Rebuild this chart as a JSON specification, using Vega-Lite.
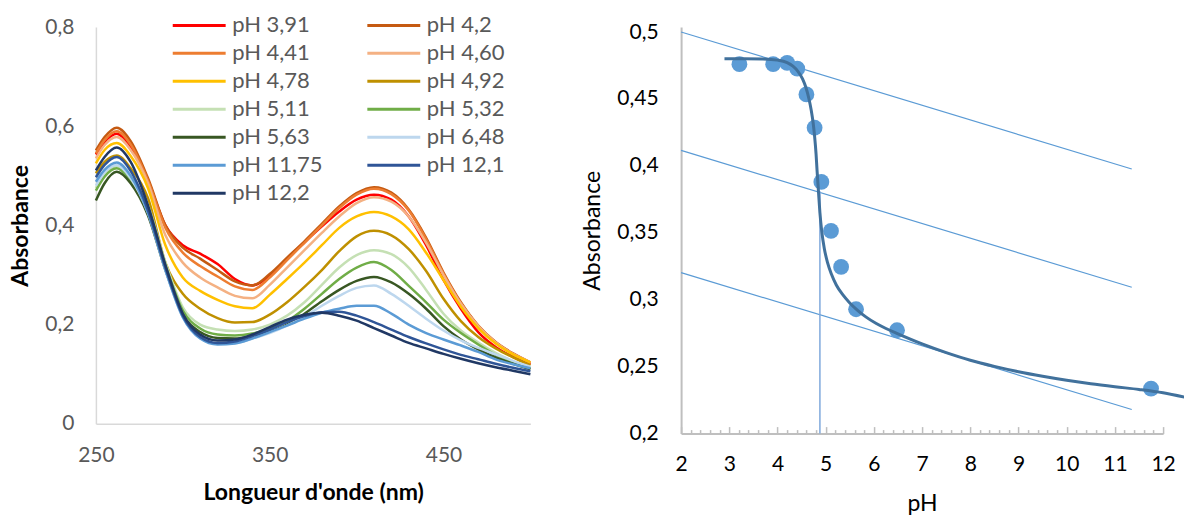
{
  "$schema": "https://vega.github.io/schema/vega-lite/v6.json",
  "background": "white",
  "padding": {"left": 8.9, "top": 11, "right": 0, "bottom": 0},
  "config": {"view": {"stroke": null}, "font": "Lato", "axis": {"grid": false}},
  "spacing": 45.2,
  "datasets": {
    "spectra": [
      {"s":"pH 3,91","nm":250,"A":0.543},{"s":"pH 3,91","nm":255,"A":0.568},{"s":"pH 3,91","nm":262,"A":0.585},{"s":"pH 3,91","nm":270,"A":0.557},{"s":"pH 3,91","nm":280,"A":0.49},{"s":"pH 3,91","nm":290,"A":0.40},{"s":"pH 3,91","nm":300,"A":0.36},{"s":"pH 3,91","nm":310,"A":0.343},{"s":"pH 3,91","nm":320,"A":0.322},{"s":"pH 3,91","nm":330,"A":0.292},{"s":"pH 3,91","nm":340,"A":0.279},{"s":"pH 3,91","nm":350,"A":0.298},{"s":"pH 3,91","nm":360,"A":0.333},{"s":"pH 3,91","nm":370,"A":0.366},{"s":"pH 3,91","nm":380,"A":0.398},{"s":"pH 3,91","nm":390,"A":0.428},{"s":"pH 3,91","nm":400,"A":0.452},{"s":"pH 3,91","nm":410,"A":0.462},{"s":"pH 3,91","nm":420,"A":0.452},{"s":"pH 3,91","nm":430,"A":0.418},{"s":"pH 3,91","nm":440,"A":0.36},{"s":"pH 3,91","nm":450,"A":0.29},{"s":"pH 3,91","nm":460,"A":0.232},{"s":"pH 3,91","nm":470,"A":0.185},{"s":"pH 3,91","nm":480,"A":0.155},{"s":"pH 3,91","nm":490,"A":0.135},{"s":"pH 3,91","nm":500,"A":0.12},
      {"s":"pH 4,2","nm":250,"A":0.551},{"s":"pH 4,2","nm":255,"A":0.578},{"s":"pH 4,2","nm":262,"A":0.597},{"s":"pH 4,2","nm":270,"A":0.57},{"s":"pH 4,2","nm":280,"A":0.495},{"s":"pH 4,2","nm":290,"A":0.40},{"s":"pH 4,2","nm":300,"A":0.355},{"s":"pH 4,2","nm":310,"A":0.333},{"s":"pH 4,2","nm":320,"A":0.31},{"s":"pH 4,2","nm":330,"A":0.287},{"s":"pH 4,2","nm":340,"A":0.279},{"s":"pH 4,2","nm":350,"A":0.302},{"s":"pH 4,2","nm":360,"A":0.335},{"s":"pH 4,2","nm":370,"A":0.368},{"s":"pH 4,2","nm":380,"A":0.403},{"s":"pH 4,2","nm":390,"A":0.438},{"s":"pH 4,2","nm":400,"A":0.465},{"s":"pH 4,2","nm":410,"A":0.477},{"s":"pH 4,2","nm":420,"A":0.466},{"s":"pH 4,2","nm":430,"A":0.432},{"s":"pH 4,2","nm":440,"A":0.375},{"s":"pH 4,2","nm":450,"A":0.305},{"s":"pH 4,2","nm":460,"A":0.245},{"s":"pH 4,2","nm":470,"A":0.198},{"s":"pH 4,2","nm":480,"A":0.165},{"s":"pH 4,2","nm":490,"A":0.142},{"s":"pH 4,2","nm":500,"A":0.124},
      {"s":"pH 4,41","nm":250,"A":0.545},{"s":"pH 4,41","nm":255,"A":0.572},{"s":"pH 4,41","nm":262,"A":0.59},{"s":"pH 4,41","nm":270,"A":0.563},{"s":"pH 4,41","nm":280,"A":0.49},{"s":"pH 4,41","nm":290,"A":0.395},{"s":"pH 4,41","nm":300,"A":0.345},{"s":"pH 4,41","nm":310,"A":0.318},{"s":"pH 4,41","nm":320,"A":0.297},{"s":"pH 4,41","nm":330,"A":0.277},{"s":"pH 4,41","nm":340,"A":0.27},{"s":"pH 4,41","nm":350,"A":0.295},{"s":"pH 4,41","nm":360,"A":0.33},{"s":"pH 4,41","nm":370,"A":0.365},{"s":"pH 4,41","nm":380,"A":0.4},{"s":"pH 4,41","nm":390,"A":0.435},{"s":"pH 4,41","nm":400,"A":0.462},{"s":"pH 4,41","nm":410,"A":0.474},{"s":"pH 4,41","nm":420,"A":0.463},{"s":"pH 4,41","nm":430,"A":0.43},{"s":"pH 4,41","nm":440,"A":0.372},{"s":"pH 4,41","nm":450,"A":0.303},{"s":"pH 4,41","nm":460,"A":0.243},{"s":"pH 4,41","nm":470,"A":0.197},{"s":"pH 4,41","nm":480,"A":0.164},{"s":"pH 4,41","nm":490,"A":0.141},{"s":"pH 4,41","nm":500,"A":0.123},
      {"s":"pH 4,60","nm":250,"A":0.535},{"s":"pH 4,60","nm":255,"A":0.562},{"s":"pH 4,60","nm":262,"A":0.578},{"s":"pH 4,60","nm":270,"A":0.552},{"s":"pH 4,60","nm":280,"A":0.485},{"s":"pH 4,60","nm":290,"A":0.38},{"s":"pH 4,60","nm":300,"A":0.325},{"s":"pH 4,60","nm":310,"A":0.295},{"s":"pH 4,60","nm":320,"A":0.275},{"s":"pH 4,60","nm":330,"A":0.258},{"s":"pH 4,60","nm":340,"A":0.253},{"s":"pH 4,60","nm":350,"A":0.28},{"s":"pH 4,60","nm":360,"A":0.315},{"s":"pH 4,60","nm":370,"A":0.35},{"s":"pH 4,60","nm":380,"A":0.385},{"s":"pH 4,60","nm":390,"A":0.418},{"s":"pH 4,60","nm":400,"A":0.445},{"s":"pH 4,60","nm":410,"A":0.457},{"s":"pH 4,60","nm":420,"A":0.448},{"s":"pH 4,60","nm":430,"A":0.418},{"s":"pH 4,60","nm":440,"A":0.365},{"s":"pH 4,60","nm":450,"A":0.30},{"s":"pH 4,60","nm":460,"A":0.242},{"s":"pH 4,60","nm":470,"A":0.197},{"s":"pH 4,60","nm":480,"A":0.164},{"s":"pH 4,60","nm":490,"A":0.141},{"s":"pH 4,60","nm":500,"A":0.124},
      {"s":"pH 4,78","nm":250,"A":0.525},{"s":"pH 4,78","nm":255,"A":0.552},{"s":"pH 4,78","nm":262,"A":0.566},{"s":"pH 4,78","nm":270,"A":0.54},{"s":"pH 4,78","nm":280,"A":0.475},{"s":"pH 4,78","nm":290,"A":0.36},{"s":"pH 4,78","nm":300,"A":0.295},{"s":"pH 4,78","nm":310,"A":0.268},{"s":"pH 4,78","nm":320,"A":0.25},{"s":"pH 4,78","nm":330,"A":0.237},{"s":"pH 4,78","nm":340,"A":0.233},{"s":"pH 4,78","nm":350,"A":0.26},{"s":"pH 4,78","nm":360,"A":0.292},{"s":"pH 4,78","nm":370,"A":0.325},{"s":"pH 4,78","nm":380,"A":0.36},{"s":"pH 4,78","nm":390,"A":0.395},{"s":"pH 4,78","nm":400,"A":0.418},{"s":"pH 4,78","nm":410,"A":0.427},{"s":"pH 4,78","nm":420,"A":0.418},{"s":"pH 4,78","nm":430,"A":0.392},{"s":"pH 4,78","nm":440,"A":0.345},{"s":"pH 4,78","nm":450,"A":0.29},{"s":"pH 4,78","nm":460,"A":0.236},{"s":"pH 4,78","nm":470,"A":0.193},{"s":"pH 4,78","nm":480,"A":0.162},{"s":"pH 4,78","nm":490,"A":0.14},{"s":"pH 4,78","nm":500,"A":0.124},
      {"s":"pH 4,92","nm":250,"A":0.505},{"s":"pH 4,92","nm":255,"A":0.528},{"s":"pH 4,92","nm":262,"A":0.541},{"s":"pH 4,92","nm":270,"A":0.515},{"s":"pH 4,92","nm":280,"A":0.455},{"s":"pH 4,92","nm":290,"A":0.325},{"s":"pH 4,92","nm":300,"A":0.262},{"s":"pH 4,92","nm":310,"A":0.232},{"s":"pH 4,92","nm":320,"A":0.213},{"s":"pH 4,92","nm":330,"A":0.204},{"s":"pH 4,92","nm":340,"A":0.205},{"s":"pH 4,92","nm":350,"A":0.22},{"s":"pH 4,92","nm":360,"A":0.245},{"s":"pH 4,92","nm":370,"A":0.276},{"s":"pH 4,92","nm":380,"A":0.31},{"s":"pH 4,92","nm":390,"A":0.348},{"s":"pH 4,92","nm":400,"A":0.378},{"s":"pH 4,92","nm":410,"A":0.389},{"s":"pH 4,92","nm":420,"A":0.38},{"s":"pH 4,92","nm":430,"A":0.352},{"s":"pH 4,92","nm":440,"A":0.308},{"s":"pH 4,92","nm":450,"A":0.252},{"s":"pH 4,92","nm":460,"A":0.207},{"s":"pH 4,92","nm":470,"A":0.175},{"s":"pH 4,92","nm":480,"A":0.152},{"s":"pH 4,92","nm":490,"A":0.134},{"s":"pH 4,92","nm":500,"A":0.118},
      {"s":"pH 5,11","nm":250,"A":0.475},{"s":"pH 5,11","nm":255,"A":0.503},{"s":"pH 5,11","nm":262,"A":0.52},{"s":"pH 5,11","nm":270,"A":0.495},{"s":"pH 5,11","nm":280,"A":0.44},{"s":"pH 5,11","nm":290,"A":0.325},{"s":"pH 5,11","nm":300,"A":0.235},{"s":"pH 5,11","nm":310,"A":0.2},{"s":"pH 5,11","nm":320,"A":0.19},{"s":"pH 5,11","nm":330,"A":0.187},{"s":"pH 5,11","nm":340,"A":0.19},{"s":"pH 5,11","nm":350,"A":0.2},{"s":"pH 5,11","nm":360,"A":0.218},{"s":"pH 5,11","nm":370,"A":0.245},{"s":"pH 5,11","nm":380,"A":0.28},{"s":"pH 5,11","nm":390,"A":0.315},{"s":"pH 5,11","nm":400,"A":0.34},{"s":"pH 5,11","nm":410,"A":0.35},{"s":"pH 5,11","nm":420,"A":0.342},{"s":"pH 5,11","nm":430,"A":0.315},{"s":"pH 5,11","nm":440,"A":0.27},{"s":"pH 5,11","nm":450,"A":0.222},{"s":"pH 5,11","nm":460,"A":0.188},{"s":"pH 5,11","nm":470,"A":0.164},{"s":"pH 5,11","nm":480,"A":0.143},{"s":"pH 5,11","nm":490,"A":0.126},{"s":"pH 5,11","nm":500,"A":0.113},
      {"s":"pH 5,32","nm":250,"A":0.47},{"s":"pH 5,32","nm":255,"A":0.498},{"s":"pH 5,32","nm":262,"A":0.515},{"s":"pH 5,32","nm":270,"A":0.49},{"s":"pH 5,32","nm":280,"A":0.435},{"s":"pH 5,32","nm":290,"A":0.32},{"s":"pH 5,32","nm":300,"A":0.228},{"s":"pH 5,32","nm":310,"A":0.192},{"s":"pH 5,32","nm":320,"A":0.18},{"s":"pH 5,32","nm":330,"A":0.178},{"s":"pH 5,32","nm":340,"A":0.182},{"s":"pH 5,32","nm":350,"A":0.192},{"s":"pH 5,32","nm":360,"A":0.207},{"s":"pH 5,32","nm":370,"A":0.232},{"s":"pH 5,32","nm":380,"A":0.262},{"s":"pH 5,32","nm":390,"A":0.292},{"s":"pH 5,32","nm":400,"A":0.315},{"s":"pH 5,32","nm":410,"A":0.326},{"s":"pH 5,32","nm":420,"A":0.31},{"s":"pH 5,32","nm":430,"A":0.278},{"s":"pH 5,32","nm":440,"A":0.245},{"s":"pH 5,32","nm":450,"A":0.21},{"s":"pH 5,32","nm":460,"A":0.183},{"s":"pH 5,32","nm":470,"A":0.16},{"s":"pH 5,32","nm":480,"A":0.139},{"s":"pH 5,32","nm":490,"A":0.122},{"s":"pH 5,32","nm":500,"A":0.112},
      {"s":"pH 5,63","nm":250,"A":0.45},{"s":"pH 5,63","nm":255,"A":0.485},{"s":"pH 5,63","nm":262,"A":0.508},{"s":"pH 5,63","nm":270,"A":0.485},{"s":"pH 5,63","nm":280,"A":0.42},{"s":"pH 5,63","nm":290,"A":0.31},{"s":"pH 5,63","nm":300,"A":0.22},{"s":"pH 5,63","nm":310,"A":0.185},{"s":"pH 5,63","nm":320,"A":0.173},{"s":"pH 5,63","nm":330,"A":0.172},{"s":"pH 5,63","nm":340,"A":0.177},{"s":"pH 5,63","nm":350,"A":0.186},{"s":"pH 5,63","nm":360,"A":0.2},{"s":"pH 5,63","nm":370,"A":0.222},{"s":"pH 5,63","nm":380,"A":0.247},{"s":"pH 5,63","nm":390,"A":0.27},{"s":"pH 5,63","nm":400,"A":0.288},{"s":"pH 5,63","nm":410,"A":0.296},{"s":"pH 5,63","nm":420,"A":0.285},{"s":"pH 5,63","nm":430,"A":0.262},{"s":"pH 5,63","nm":440,"A":0.232},{"s":"pH 5,63","nm":450,"A":0.197},{"s":"pH 5,63","nm":460,"A":0.17},{"s":"pH 5,63","nm":470,"A":0.15},{"s":"pH 5,63","nm":480,"A":0.134},{"s":"pH 5,63","nm":490,"A":0.121},{"s":"pH 5,63","nm":500,"A":0.11},
      {"s":"pH 6,48","nm":250,"A":0.48},{"s":"pH 6,48","nm":255,"A":0.507},{"s":"pH 6,48","nm":262,"A":0.522},{"s":"pH 6,48","nm":270,"A":0.495},{"s":"pH 6,48","nm":280,"A":0.425},{"s":"pH 6,48","nm":290,"A":0.31},{"s":"pH 6,48","nm":300,"A":0.215},{"s":"pH 6,48","nm":310,"A":0.175},{"s":"pH 6,48","nm":320,"A":0.162},{"s":"pH 6,48","nm":330,"A":0.163},{"s":"pH 6,48","nm":340,"A":0.172},{"s":"pH 6,48","nm":350,"A":0.183},{"s":"pH 6,48","nm":360,"A":0.198},{"s":"pH 6,48","nm":370,"A":0.216},{"s":"pH 6,48","nm":380,"A":0.238},{"s":"pH 6,48","nm":390,"A":0.258},{"s":"pH 6,48","nm":400,"A":0.274},{"s":"pH 6,48","nm":410,"A":0.279},{"s":"pH 6,48","nm":420,"A":0.262},{"s":"pH 6,48","nm":430,"A":0.238},{"s":"pH 6,48","nm":440,"A":0.212},{"s":"pH 6,48","nm":450,"A":0.188},{"s":"pH 6,48","nm":460,"A":0.168},{"s":"pH 6,48","nm":470,"A":0.153},{"s":"pH 6,48","nm":480,"A":0.14},{"s":"pH 6,48","nm":490,"A":0.127},{"s":"pH 6,48","nm":500,"A":0.115},
      {"s":"pH 11,75","nm":250,"A":0.488},{"s":"pH 11,75","nm":255,"A":0.512},{"s":"pH 11,75","nm":262,"A":0.527},{"s":"pH 11,75","nm":270,"A":0.5},{"s":"pH 11,75","nm":280,"A":0.425},{"s":"pH 11,75","nm":290,"A":0.31},{"s":"pH 11,75","nm":300,"A":0.215},{"s":"pH 11,75","nm":310,"A":0.172},{"s":"pH 11,75","nm":320,"A":0.16},{"s":"pH 11,75","nm":330,"A":0.162},{"s":"pH 11,75","nm":340,"A":0.172},{"s":"pH 11,75","nm":350,"A":0.185},{"s":"pH 11,75","nm":360,"A":0.198},{"s":"pH 11,75","nm":370,"A":0.212},{"s":"pH 11,75","nm":380,"A":0.224},{"s":"pH 11,75","nm":390,"A":0.232},{"s":"pH 11,75","nm":400,"A":0.238},{"s":"pH 11,75","nm":410,"A":0.238},{"s":"pH 11,75","nm":420,"A":0.222},{"s":"pH 11,75","nm":430,"A":0.2},{"s":"pH 11,75","nm":440,"A":0.183},{"s":"pH 11,75","nm":450,"A":0.17},{"s":"pH 11,75","nm":460,"A":0.158},{"s":"pH 11,75","nm":470,"A":0.145},{"s":"pH 11,75","nm":480,"A":0.13},{"s":"pH 11,75","nm":490,"A":0.12},{"s":"pH 11,75","nm":500,"A":0.112},
      {"s":"pH 12,1","nm":250,"A":0.497},{"s":"pH 12,1","nm":255,"A":0.522},{"s":"pH 12,1","nm":262,"A":0.538},{"s":"pH 12,1","nm":270,"A":0.51},{"s":"pH 12,1","nm":280,"A":0.43},{"s":"pH 12,1","nm":290,"A":0.315},{"s":"pH 12,1","nm":300,"A":0.218},{"s":"pH 12,1","nm":310,"A":0.175},{"s":"pH 12,1","nm":320,"A":0.163},{"s":"pH 12,1","nm":330,"A":0.166},{"s":"pH 12,1","nm":340,"A":0.177},{"s":"pH 12,1","nm":350,"A":0.19},{"s":"pH 12,1","nm":360,"A":0.205},{"s":"pH 12,1","nm":370,"A":0.217},{"s":"pH 12,1","nm":380,"A":0.225},{"s":"pH 12,1","nm":390,"A":0.226},{"s":"pH 12,1","nm":400,"A":0.218},{"s":"pH 12,1","nm":410,"A":0.205},{"s":"pH 12,1","nm":420,"A":0.19},{"s":"pH 12,1","nm":430,"A":0.175},{"s":"pH 12,1","nm":440,"A":0.162},{"s":"pH 12,1","nm":450,"A":0.15},{"s":"pH 12,1","nm":460,"A":0.139},{"s":"pH 12,1","nm":470,"A":0.13},{"s":"pH 12,1","nm":480,"A":0.121},{"s":"pH 12,1","nm":490,"A":0.113},{"s":"pH 12,1","nm":500,"A":0.106},
      {"s":"pH 12,2","nm":250,"A":0.511},{"s":"pH 12,2","nm":255,"A":0.538},{"s":"pH 12,2","nm":262,"A":0.557},{"s":"pH 12,2","nm":270,"A":0.528},{"s":"pH 12,2","nm":280,"A":0.44},{"s":"pH 12,2","nm":290,"A":0.32},{"s":"pH 12,2","nm":300,"A":0.222},{"s":"pH 12,2","nm":310,"A":0.18},{"s":"pH 12,2","nm":320,"A":0.168},{"s":"pH 12,2","nm":330,"A":0.17},{"s":"pH 12,2","nm":340,"A":0.18},{"s":"pH 12,2","nm":350,"A":0.195},{"s":"pH 12,2","nm":360,"A":0.21},{"s":"pH 12,2","nm":370,"A":0.22},{"s":"pH 12,2","nm":380,"A":0.224},{"s":"pH 12,2","nm":390,"A":0.218},{"s":"pH 12,2","nm":400,"A":0.208},{"s":"pH 12,2","nm":410,"A":0.193},{"s":"pH 12,2","nm":420,"A":0.178},{"s":"pH 12,2","nm":430,"A":0.163},{"s":"pH 12,2","nm":440,"A":0.152},{"s":"pH 12,2","nm":450,"A":0.141},{"s":"pH 12,2","nm":460,"A":0.131},{"s":"pH 12,2","nm":470,"A":0.122},{"s":"pH 12,2","nm":480,"A":0.114},{"s":"pH 12,2","nm":490,"A":0.107},{"s":"pH 12,2","nm":500,"A":0.1}
    ],
    "points": [
      {"pH":3.21,"A":0.476},{"pH":3.91,"A":0.476},{"pH":4.2,"A":0.477},{"pH":4.41,"A":0.4726},{"pH":4.6,"A":0.4534},{"pH":4.77,"A":0.4285},{"pH":4.91,"A":0.388},{"pH":5.11,"A":0.3514},{"pH":5.32,"A":0.3245},{"pH":5.63,"A":0.2929},{"pH":6.48,"A":0.2772},{"pH":11.75,"A":0.2336}
    ],
    "fit": [
      {"pH":2.9,"A":0.480},{"pH":3.3,"A":0.480},{"pH":3.7,"A":0.4798},{"pH":4.0,"A":0.479},{"pH":4.2,"A":0.4772},{"pH":4.32,"A":0.4745},{"pH":4.42,"A":0.4708},{"pH":4.52,"A":0.465},{"pH":4.59,"A":0.4585},{"pH":4.65,"A":0.4505},{"pH":4.7,"A":0.4415},{"pH":4.74,"A":0.432},{"pH":4.77,"A":0.422},{"pH":4.8,"A":0.409},{"pH":4.82,"A":0.397},{"pH":4.85,"A":0.381},{"pH":4.88,"A":0.365},{"pH":4.92,"A":0.3505},{"pH":4.97,"A":0.3385},{"pH":5.04,"A":0.3275},{"pH":5.12,"A":0.319},{"pH":5.22,"A":0.311},{"pH":5.35,"A":0.304},{"pH":5.49,"A":0.298},{"pH":5.65,"A":0.2925},{"pH":5.84,"A":0.287},{"pH":6.05,"A":0.2822},{"pH":6.25,"A":0.2785},{"pH":6.5,"A":0.2745},{"pH":7.0,"A":0.267},{"pH":7.5,"A":0.2605},{"pH":8.0,"A":0.2548},{"pH":8.5,"A":0.2502},{"pH":9.0,"A":0.2462},{"pH":9.5,"A":0.2428},{"pH":10.0,"A":0.2398},{"pH":10.5,"A":0.2372},{"pH":11.0,"A":0.235},{"pH":11.5,"A":0.233},{"pH":12.0,"A":0.2305},{"pH":12.45,"A":0.2272}
    ],
    "tangents": [
      {"line":1,"pH":2,"A":0.5},{"line":1,"pH":11.35,"A":0.3977},
      {"line":2,"pH":2,"A":0.4116},{"line":2,"pH":11.35,"A":0.3093},
      {"line":3,"pH":2,"A":0.3203},{"line":3,"pH":11.35,"A":0.218}
    ],
    "vline": [{"pH":4.88,"A":0.2,"A2":0.381}]
  },
  "hconcat": [
    {
      "width": 434.5,
      "height": 396.8,
      "data": {"name": "spectra"},
      "mark": {"type": "line", "strokeWidth": 2.5, "interpolate": "monotone"},
      "encoding": {
        "x": {"field": "nm", "type": "quantitative",
          "scale": {"domain": [250, 500], "nice": false, "zero": false},
          "axis": {"values": [250, 350, 450], "title": "Longueur d'onde (nm)", "ticks": false,
            "domainColor": "#d9d9d9", "domainWidth": 1.5, "labelColor": "#595959", "labelFontSize": 21,
            "labelPadding": 21, "titleFontSize": 23, "titleFontWeight": "bold", "titleColor": "#000000", "titlePadding": 16, "labelFlush": false}},
        "y": {"field": "A", "type": "quantitative",
          "scale": {"domain": [0, 0.8], "nice": false},
          "axis": {"values": [0, 0.2, 0.4, 0.6, 0.8], "labelExpr": "replace(format(datum.value, '~g'), '.', ',')", "ticks": false,
            "domainColor": "#d9d9d9", "domainWidth": 1.5, "labelColor": "#595959", "labelFontSize": 21,
            "labelPadding": 22, "title": "Absorbance", "titleFontSize": 23, "titleFontWeight": "bold", "titleColor": "#000000", "titlePadding": 12}},
        "color": {"field": "s", "type": "nominal",
          "scale": {"domain": ["pH 3,91","pH 4,2","pH 4,41","pH 4,60","pH 4,78","pH 4,92","pH 5,11","pH 5,32","pH 5,63","pH 6,48","pH 11,75","pH 12,1","pH 12,2"],
            "range": ["#FF0000","#C55A11","#ED7D31","#F4B183","#FFC000","#BF9000","#C5E0B4","#70AD47","#385723","#BDD7EE","#5B9BD5","#2F5597","#203864"]},
          "legend": {"orient": "none", "legendX": 75.3, "legendY": -15.6, "columns": 2, "direction": "horizontal", "title": null,
            "symbolType": "stroke", "symbolSize": 2800, "symbolStrokeWidth": 3, "clipHeight": 27.9,
            "labelFontSize": 22, "labelColor": "#595959", "labelOffset": 5, "columnPadding": 42.6, "rowPadding": 0, "padding": 0}}
      }
    },
    {
      "width": 482,
      "height": 406.6,
      "resolve": {"axis": {"x": "independent"}},
      "layer": [
        {
          "data": {"name": "tangents"},
          "mark": {"type": "line", "color": "#5B9BD5", "strokeWidth": 1.2},
          "encoding": {
            "x": {"field": "pH", "type": "quantitative", "scale": {"domain": [2, 12], "nice": false, "zero": false},
              "axis": {"orient": "bottom", "values": [2,3,4,5,6,7,8,9,10,11,12], "format": "d",
                "labelOverlap": false, "labelFlush": false, "title": "pH",
                "tickColor": "#bfbfbf", "tickWidth": 1.5, "tickSize": -7,
                "domainColor": "#bfbfbf", "domainWidth": 2, "labelColor": "#000000", "labelFontSize": 21,
                "labelPadding": 26.5, "titleFontSize": 23, "titleFontWeight": "normal", "titleColor": "#000000", "titlePadding": 18}},
            "y": {"field": "A", "type": "quantitative", "scale": {"domain": [0.2, 0.50374], "nice": false, "zero": false},
              "axis": {"values": [0.2, 0.25, 0.3, 0.35, 0.4, 0.45, 0.5], "labelExpr": "replace(format(datum.value, '.2~f'), '.', ',')", "ticks": false,
                "domainColor": "#bfbfbf", "domainWidth": 2, "labelColor": "#000000", "labelFontSize": 21,
                "labelPadding": 23, "title": "Absorbance", "titleFontSize": 23, "titleFontWeight": "normal", "titleColor": "#000000", "titlePadding": 12}},
            "detail": {"field": "line", "type": "nominal"}
          }
        },
        {
          "data": {"name": "vline"},
          "mark": {"type": "rule", "color": "#7FA9DC", "strokeWidth": 1.5},
          "encoding": {
            "x": {"field": "pH", "type": "quantitative", "scale": {"domain": [2, 12], "nice": false, "zero": false},
              "axis": {"orient": "bottom", "values": [2.2,2.4,2.6,2.8,3.2,3.4,3.6,3.8,4.2,4.4,4.6,4.8,5.2,5.4,5.6,5.8,6.2,6.4,6.6,6.8,7.2,7.4,7.6,7.8,8.2,8.4,8.6,8.8,9.2,9.4,9.6,9.8,10.2,10.4,10.6,10.8,11.2,11.4,11.6,11.8],
                "labels": false, "domain": false, "title": null, "tickColor": "#bfbfbf", "tickWidth": 1.5, "tickSize": -4}},
            "y": {"field": "A", "type": "quantitative"},
            "y2": {"field": "A2"}
          }
        },
        {
          "data": {"name": "points"},
          "mark": {"type": "circle", "color": "#5B9BD5", "size": 250, "opacity": 1},
          "encoding": {
            "x": {"field": "pH", "type": "quantitative", "axis": null},
            "y": {"field": "A", "type": "quantitative"}
          }
        },
        {
          "data": {"name": "fit"},
          "mark": {"type": "line", "color": "#41719C", "strokeWidth": 3, "interpolate": "monotone", "clip": false},
          "encoding": {
            "x": {"field": "pH", "type": "quantitative", "axis": null},
            "y": {"field": "A", "type": "quantitative"}
          }
        }
      ]
    }
  ]
}
